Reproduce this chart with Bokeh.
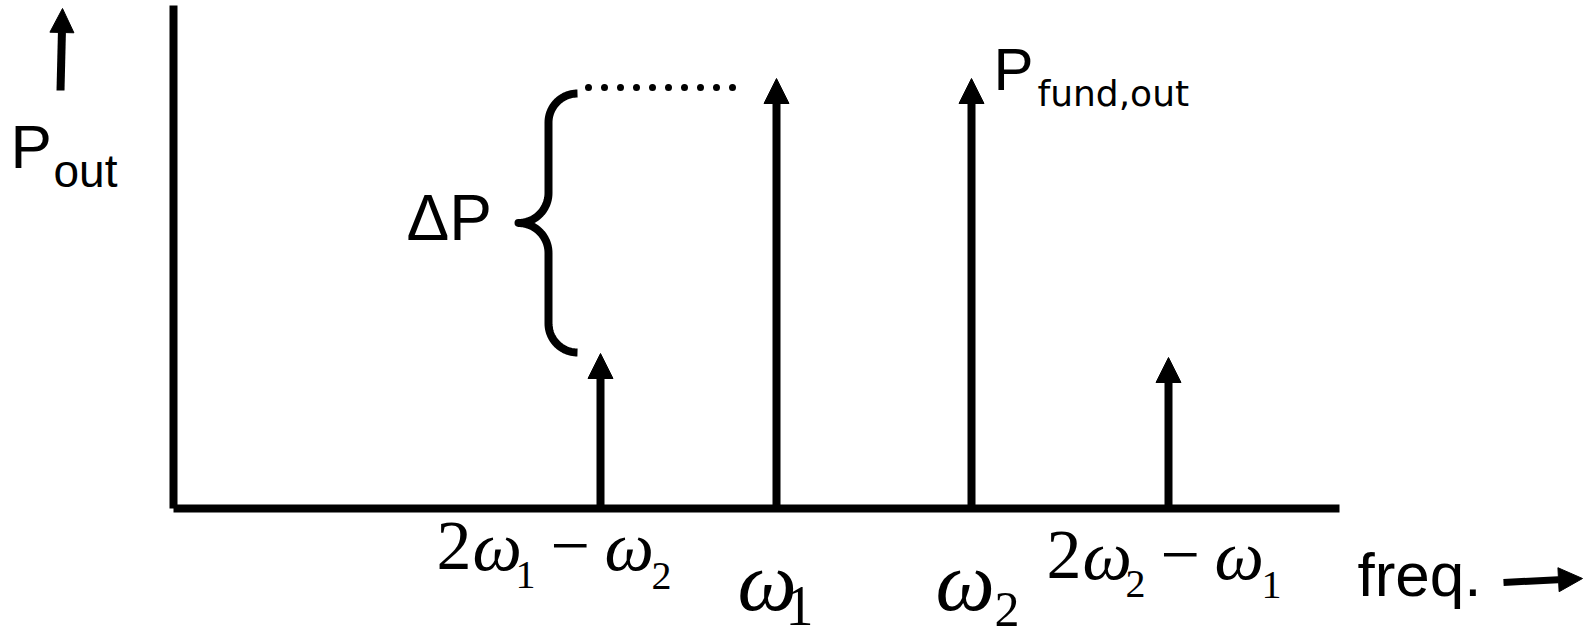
import numpy as np
from bokeh.plotting import figure
from bokeh.models import Range1d, Arrow, NormalHead, Label, ColumnDataSource
from bokeh.embed import file_html
from bokeh.resources import INLINE

# Two-tone test: output spectrum with the third-order intermodulation products
tone_freq = [4.27, 6.03, 7.98, 9.95]      # 2w1-w2, w1, w2, 2w2-w1 along the frequency axis
tone_power = [1.55, 4.30, 4.30, 1.51]     # output power of each spectral line (arbitrary units)
freq_axis_end = 11.66
power_axis_end = 5.03

W, H = 1596, 640
UNIT = 100.0          # pixels per axis unit
X0, Y0 = 173, 508     # pixel position of the origin

p = figure(width=W, height=H,
           x_range=Range1d(-X0 / UNIT, (W - X0) / UNIT),
           y_range=Range1d(-(H - Y0) / UNIT, Y0 / UNIT),
           output_backend="svg", toolbar_location=None, min_border=0)
p.axis.visible = False
p.grid.visible = False
p.outline_line_color = None
p.background_fill_color = "white"
p.border_fill_color = "white"

def px(dx):
    return dx / UNIT

# axes
p.segment(x0=[0, 0], y0=[0, 0], x1=[freq_axis_end, 0], y1=[0, power_axis_end],
          line_width=8, line_color="black", line_cap="butt")

# spectral lines
src = ColumnDataSource(dict(x=tone_freq, y0=[0] * len(tone_freq), y1=tone_power))
p.add_layout(Arrow(end=NormalHead(size=25, fill_color="black", line_color="black", line_width=1),
                   x_start="x", y_start="y0", x_end="x", y_end="y1", source=src,
                   line_width=8, line_color="black"))

# delta-P: dotted level line and curly brace
level = tone_power[1] - 0.09
p.line(x=[tone_freq[0] - px(12), tone_freq[1] - px(40)], y=[level, level],
       line_dash="0 16", line_cap="round", line_width=7, line_color="black")

xs = tone_freq[0] - px(52)   # brace spine
xe = tone_freq[0] - px(23)   # brace ends
xt = tone_freq[0] - px(82)   # brace tip
yt = level - 0.06
yb = tone_power[0] + 0.01
ym = (yt + yb) / 2
r_end = xe - xs
r_mid = xs - xt

def arc(cx, cy, r, a0, a1, n=30):
    a = np.radians(np.linspace(a0, a1, n))
    return cx + r * np.cos(a), cy + r * np.sin(a)

parts = [
    arc(xe, yt - r_end, r_end, 90, 180),
    arc(xt, ym + r_mid, r_mid, 0, -90),
    arc(xt, ym - r_mid, r_mid, 90, 0),
    arc(xe, yb + r_end, r_end, 180, 270),
]
bx = np.concatenate([q[0] for q in parts])
by = np.concatenate([q[1] for q in parts])
p.line(bx, by, line_width=8, line_color="black", line_join="round", line_cap="butt")

# direction arrows next to the axis titles
p.add_layout(Arrow(end=NormalHead(size=24, fill_color="black", line_color="black", line_width=1),
                   x_start=px(60 - X0), y_start=px(Y0 - 90), x_end=px(62 - X0), y_end=px(Y0 - 8),
                   line_width=8, line_color="black"))
p.add_layout(Arrow(end=NormalHead(size=24, fill_color="black", line_color="black", line_width=1),
                   x_start=px(1503 - X0), y_start=px(Y0 - 582), x_end=px(1582 - X0), y_end=px(Y0 - 578),
                   line_width=7, line_color="black"))

SANS = "Liberation Sans"
SERIF = "Liberation Serif"

def put(text, x, y, size, font=SANS, style="normal"):
    # lift so that y is the alphabetic baseline of the rendered text
    lift = (0.33 if font.startswith("DejaVu") else 0.39) * size
    p.add_layout(Label(x=x, y=y + px(lift), text=text, text_font=font, text_font_size=f"{size}px",
                       text_font_style=style, text_baseline="alphabetic", text_align="left",
                       text_color="black"))

def at(sx, sy):
    return px(sx - X0), px(Y0 - sy)

put("P", *at(10, 170), 62)
put("out", *at(53, 188), 46)
put("ΔP", *at(406, 242), 64)
put("P", *at(993, 92), 60)
put("fund,out", *at(1037, 105), 36, font="DejaVu Sans")
put("freq.", *at(1357, 598), 62)

# frequency labels under each spectral line
im_runs = [("2", 0, 0, 70, "normal"), ("ω", 36, 0, 70, "italic"), (None, 79, 17, 40, "normal"),
           ("−", 114, 0, 70, "normal"), ("ω", 168, 0, 70, "italic"), (None, 215, 18, 40, "normal")]

def math_label(f, start, drop, subs):
    k = 0
    for text, dx, dy, size, style in im_runs:
        if text is None:
            text = subs[k]
            k += 1
        put(text, f + px(start + dx), -px(drop + dy), size, font=SERIF, style=style)

math_label(tone_freq[0], -164, 65, ["1", "2"])
math_label(tone_freq[3], -122, 74, ["2", "1"])

put("ω", tone_freq[1] - px(39), -px(106), 84, font=SERIF, style="italic")
put("1", tone_freq[1] + px(9), -px(119), 56, font=SERIF)
put("ω", tone_freq[2] - px(36), -px(106), 84, font=SERIF, style="italic")
put("2", tone_freq[2] + px(23), -px(120), 50, font=SERIF)

open("out.html", "w").write(file_html(p, INLINE))
